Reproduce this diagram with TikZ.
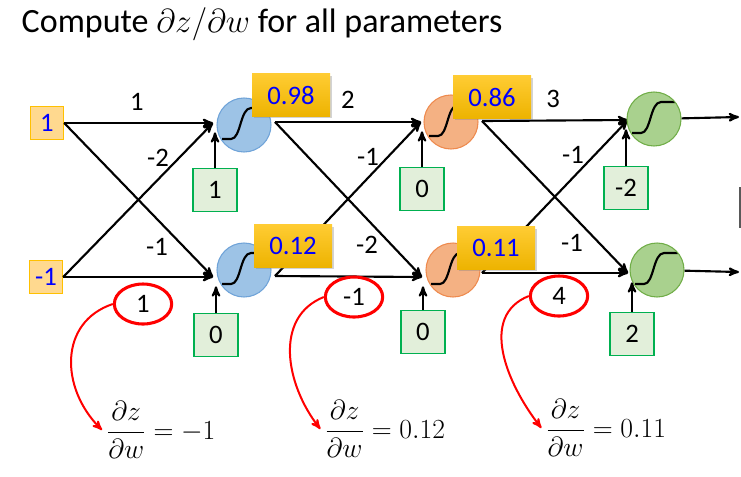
\documentclass[tikz,border=0pt]{standalone}
\usepackage{amsmath}
\usepackage{fontspec}
\setmainfont{Carlito}
\usetikzlibrary{arrows,shapes.geometric,shadows}

\definecolor{infill}{HTML}{FFD98F}
\definecolor{inborder}{HTML}{FFC000}
\definecolor{biasfill}{HTML}{E2EFDA}
\definecolor{biasborder}{HTML}{00B050}
\definecolor{bluefill}{HTML}{9DC3E6}
\definecolor{blueborder}{HTML}{6FA3D8}
\definecolor{orangefill}{HTML}{F4B183}
\definecolor{orangeborder}{HTML}{EE8A4E}
\definecolor{greenfill}{HTML}{A9D18E}
\definecolor{greenborder}{HTML}{70AD47}
\definecolor{valtop}{HTML}{FFCC33}
\definecolor{valbot}{HTML}{EDB300}

\begin{document}
\begin{tikzpicture}[x=0.75pt,y=-0.75pt,>=stealth',
      every node/.style={font=\fontsize{20}{24}\selectfont},
      input/.style={draw=inborder,fill=infill,text=blue,line width=0.8pt,minimum size=25pt,inner sep=0pt},
      neuron/.style={circle,line width=0.8pt,minimum size=40.5pt,inner sep=0pt,
        path picture={\draw[black,line width=1.6pt,shift={(path picture bounding box.center)}]
          (-22,14) -- (-13,14) .. controls (-3,14) and (-4,-17) .. (7,-17) -- (21,-17);}},
      valbox/.style={top color=valtop,bottom color=valbot,text=blue,minimum width=58.5pt,minimum height=32pt,
        drop shadow={opacity=0.35,shadow xshift=1.5pt,shadow yshift=-1.5pt}},
      bias/.style={draw=biasborder,fill=biasfill,line width=0.8pt,minimum width=33pt,minimum height=32pt,inner sep=0pt},
      grad/.style={ellipse,draw=red,line width=2.3pt,minimum width=43pt,minimum height=30pt,inner sep=0pt},
      redarrow/.style={->,red,line width=1.5pt}]
      \useasboundingbox (0,0) rectangle (741,476);

      \node[anchor=base west] (title) at (17,32) {\fontsize{25.5}{30}\selectfont Compute $\partial z/\partial w$ for all parameters};

      \node[input] (x1) at (47,123) {1};
      \node[input] (x2) at (46,277) {-1};

      \coordinate (t11) at (213,123);
      \coordinate (t12) at (213,277);
      \coordinate (t21) at (421,122);
      \coordinate (t22) at (422,277);
      \coordinate (t31) at (628,120);
      \coordinate (t32) at (628,273);
      \coordinate (o11) at (275,122);
      \coordinate (o12) at (275,276);
      \coordinate (o21) at (482,121);
      \coordinate (o22) at (482,273);
      \coordinate (y1) at (739,117);
      \coordinate (y2) at (739,272);

      \path[->,line width=1.6pt]
      (x1.east) edge (t11)
      (x1.east) edge (t12)
      (x2.east) edge (t12)
      (x2.east) edge (t11)

      (o11) edge (t21)
      (o11) edge (t22)
      (o12) edge (t22)
      (o12) edge (t21)

      (o21) edge (t31)
      (o21) edge (t32)
      (o22) edge (t32)
      (o22) edge (t31)
      ;

      \node[neuron,draw=blueborder,fill=bluefill] (n11) at (244,125) {};
      \node[neuron,draw=blueborder,fill=bluefill] (n12) at (244,270) {};
      \node[neuron,draw=orangeborder,fill=orangefill] (n21) at (451,122) {};
      \node[neuron,draw=orangeborder,fill=orangefill] (n22) at (453,270) {};
      \node[neuron,draw=greenborder,fill=greenfill] (n31) at (654,119) {};
      \node[neuron,draw=greenborder,fill=greenfill] (n32) at (657,270) {};

      \draw[->,line width=1.6pt] (n31) -- (y1);
      \draw[->,line width=1.6pt] (n32) -- (y2);

      \node[valbox] (v11) at (291,95) {0.98};
      \node[valbox] (v12) at (293,246) {0.12};
      \node[valbox] (v21) at (492,97) {0.86};
      \node[valbox] (v22) at (496,248) {0.11};

      \node[bias] (b11) at (215,190) {1};
      \node[bias] (b12) at (216,335) {0};
      \node[bias] (b21) at (422,189) {0};
      \node[bias] (b22) at (423,332) {0};
      \node[bias] (b31) at (626,188) {-2};
      \node[bias] (b32) at (632,334) {2};

      \draw[->,line width=1.6pt,shorten >=7pt] (b11) -- (b11 |- t11);
      \draw[->,line width=1.6pt,shorten >=7pt] (b12) -- (b12 |- t12);
      \draw[->,line width=1.6pt,shorten >=7pt] (b21) -- (b21 |- t21);
      \draw[->,line width=1.6pt,shorten >=7pt] (b22) -- (b22 |- t22);
      \draw[->,line width=1.6pt,shorten >=7pt] (b31) -- (b31 |- t31);
      \draw[->,line width=1.6pt,shorten >=7pt] (b32) -- (b32 |- t32);

      \node (w1a) at (137,102) {1};
      \node (w1b) at (158,158) {-2};
      \node (w1c) at (157,247) {-1};
      \node (w2a) at (348,100) {2};
      \node (w2b) at (368,157) {-1};
      \node (w2c) at (367,245) {-2};
      \node (w3a) at (553,99) {3};
      \node (w3b) at (573,155) {-1};
      \node (w3c) at (572,243) {-1};

      \node[grad] (e1) at (143,304) {1};
      \node[grad] (e2) at (354,297) {-1};
      \node[grad] (e3) at (559,296) {4};

      \node (f1) at (161,430) {\fontsize{22}{26}\selectfont $\dfrac{\partial z}{\partial w} = -1$};
      \node (f2) at (385,429) {\fontsize{22}{26}\selectfont $\dfrac{\partial z}{\partial w} = 0.12$};
      \node (f3) at (606,428) {\fontsize{22}{26}\selectfont $\dfrac{\partial z}{\partial w} = 0.11$};

      \draw[redarrow] (e1.west) .. controls +(-54,18) and +(-42,-42) .. (f1.west);
      \draw[redarrow] (e2.west) .. controls +(-50,20) and +(-35,-45) .. (f2.west);
      \draw[redarrow] (e3.west) .. controls +(-50,20) and +(-35,-45) .. (f3.west);

      \draw[gray!70!black,line width=0.8pt] (740,187) -- (740,228);
    \end{tikzpicture}
\end{document}
